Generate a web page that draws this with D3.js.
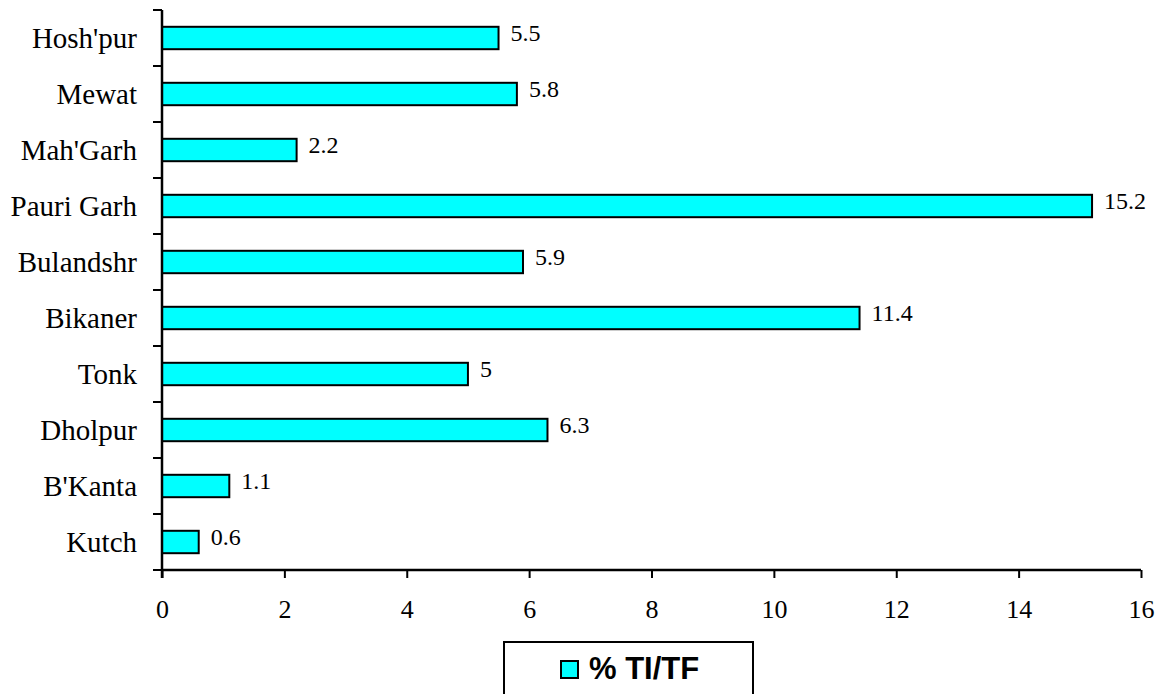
<!DOCTYPE html>
<html>
<head>
<meta charset="utf-8">
<script src="https://cdn.jsdelivr.net/npm/d3@7"></script>
<style>
  body { margin: 0; background: #fff; }
  svg { display: block; }
</style>
</head>
<body>
<svg id="chart" width="1167" height="694"></svg>
<script>
// data, top to bottom
const districts = ["Hosh'pur", "Mewat", "Mah'Garh", "Pauri Garh", "Bulandshr",
                   "Bikaner", "Tonk", "Dholpur", "B'Kanta", "Kutch"]
const tiTf = [5.5, 5.8, 2.2, 15.2, 5.9, 11.4, 5, 6.3, 1.1, 0.6]
const xTicks = [0, 2, 4, 6, 8, 10, 12, 14, 16]
const seriesName = "% TI/TF"

const svg = d3.select('#chart')
const plotLeft = 162, plotRight = 1141, plotTop = 10, plotBottom = 570
const serif = '"Liberation Serif"'
const sans = '"Liberation Sans"'

const x = d3.scaleLinear().domain([0, 16]).range([plotLeft, plotRight])
const y = d3.scaleBand().domain(districts).range([plotTop, plotBottom]).paddingInner(0.6).paddingOuter(0.3)

const rows = districts.map((d, i) => ({ name: d, value: tiTf[i] }))

// bars
svg.append('g').selectAll('rect').data(rows).enter().append('rect')
    .attr('x', x(0))
    .attr('y', d => y(d.name))
    .attr('width', d => x(d.value) - x(0))
    .attr('height', y.bandwidth())
    .attr('fill', '#00ffff')
    .attr('stroke', '#000')
    .attr('stroke-width', 2)

// value labels
svg.append('g').selectAll('text').data(rows).enter().append('text')
    .attr('x', d => x(d.value) + 12)
    .attr('y', d => y(d.name) + y.bandwidth() / 2 + 3)
    .style('font-family', serif)
    .style('font-size', '24px')
    .text(d => d.value)

// x axis
const xAxis = svg.append('g').attr('transform', `translate(0,${plotBottom})`)
    .call(d3.axisBottom(x).tickValues(xTicks).tickSize(8).tickFormat(d3.format('d')))
xAxis.select('.domain').attr('stroke-width', 2.5).attr('d', `M${plotLeft},0H${plotRight}`)
xAxis.selectAll('.tick line').attr('stroke-width', 2)
xAxis.selectAll('.tick text')
    .attr('y', 48).attr('dy', null)
    .style('font-family', serif).style('font-size', '26px').attr('fill', '#000')

// y axis: ticks sit on the band boundaries
const bounds = districts.map(d => y(d) - y.step() * y.paddingInner() / 2).concat([plotBottom])
const yAxis = svg.append('g')
yAxis.append('line')
    .attr('x1', plotLeft).attr('x2', plotLeft).attr('y1', plotTop).attr('y2', plotBottom + 8)
    .attr('stroke', '#000').attr('stroke-width', 2.5)
yAxis.selectAll('line.tk').data(bounds).enter().append('line').attr('class', 'tk')
    .attr('x1', plotLeft - 9).attr('x2', plotLeft).attr('y1', d => d).attr('y2', d => d)
    .attr('stroke', '#000').attr('stroke-width', 2)
yAxis.selectAll('text').data(districts).enter().append('text')
    .attr('x', 137)
    .attr('y', d => y(d) + y.bandwidth() / 2 + 10)
    .attr('text-anchor', 'end')
    .style('font-family', serif)
    .style('font-size', '29px')
    .text(d => d)

// legend
const lg = svg.append('g')
lg.append('rect').attr('x', 504).attr('y', 642).attr('width', 249).attr('height', 60)
    .attr('fill', '#fff').attr('stroke', '#000').attr('stroke-width', 2)
lg.append('rect').attr('x', 561).attr('y', 661).attr('width', 17).attr('height', 17)
    .attr('fill', '#00ffff').attr('stroke', '#000').attr('stroke-width', 2)
lg.append('text').attr('x', 589).attr('y', 679)
    .style('font-family', sans)
    .style('font-weight', 'bold').style('font-size', '31px')
    .text(seriesName)
</script>
</body>
</html>
